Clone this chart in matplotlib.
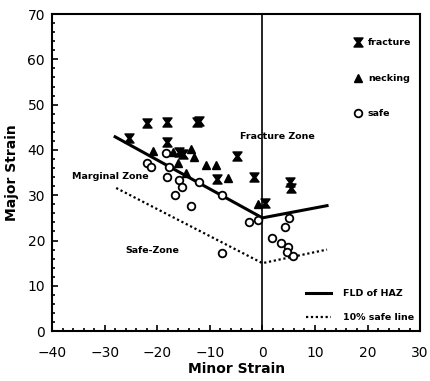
import matplotlib
matplotlib.use("Agg")
import matplotlib.pyplot as plt
from matplotlib.path import Path
from matplotlib.lines import Line2D
from matplotlib.ticker import MultipleLocator

# ---- data ----
fracture_x = [-25.3, -21.9, -18.1, -12.4, -12.0, -18.1, -15.8, -15.0, -4.8, -8.6, -1.5, 5.3, 5.5, 0.5]
fracture_y = [42.6, 45.9, 46.1, 46.1, 46.5, 41.8, 39.6, 39.2, 38.6, 33.5, 34.1, 32.9, 31.6, 28.3]

necking_x = [-20.8, -17.0, -13.5, -13.0, -16.0, -10.7, -8.8, -6.5, -14.5, -0.8]
necking_y = [39.8, 39.5, 40.2, 38.4, 37.2, 36.6, 36.6, 33.8, 35.0, 28.0]

safe_x = [-21.9, -21.1, -18.4, -18.1, -17.7, -15.8, -15.3, -16.6, -13.5, -12.0, -7.6, -7.6,
          -2.6, -0.9, 5.1, 4.4, 1.9, 3.6, 4.8, 4.6, 5.9]
safe_y = [37.2, 36.2, 39.4, 34.0, 36.2, 33.3, 31.8, 30.0, 27.6, 32.9, 30.0, 17.2,
          24.1, 24.5, 24.9, 22.9, 20.5, 19.4, 18.5, 17.4, 16.6]

fld_x = [-28.0, 0.0, 12.3]
fld_y = [42.9, 25.0, 27.7]

safe_line_x = [-27.8, 0.0, 12.3]
safe_line_y = [31.6, 15.0, 18.0]

# hourglass-like "X" marker
hg = Path([(-1, 1), (1, 1), (0.25, 0), (1, -1), (-1, -1), (-0.25, 0), (-1, 1)],
          [Path.MOVETO] + [Path.LINETO] * 5 + [Path.CLOSEPOLY])

fig = plt.figure(figsize=(4.30, 3.81), dpi=100)
ax = fig.add_axes([0.121, 0.131, 0.856, 0.832])

ax.axvline(0, color="black", lw=1.2, zorder=1)

ax.plot(fld_x, fld_y, color="black", lw=2.2, zorder=2)
ax.plot(safe_line_x, safe_line_y, color="black", lw=1.6, ls=(0, (1, 1.2)), zorder=2)

ax.plot(safe_x, safe_y, ls="none", marker="o", ms=5.5, mfc="white", mec="black", mew=1.3, zorder=3)
ax.plot(necking_x, necking_y, ls="none", marker="^", ms=6, color="black", zorder=4)
ax.plot(fracture_x, fracture_y, ls="none", marker=hg, ms=6.5, color="black", zorder=5)

ax.set_xlim(-40, 30)
ax.set_ylim(0, 70)
ax.xaxis.set_major_locator(MultipleLocator(10))
ax.xaxis.set_minor_locator(MultipleLocator(2))
ax.yaxis.set_major_locator(MultipleLocator(10))
ax.yaxis.set_minor_locator(MultipleLocator(2))
ax.tick_params(which="both", direction="in", top=False, right=False, width=1.2)
ax.tick_params(which="major", length=4, labelsize=10)
ax.tick_params(axis="x", which="major", pad=11)
ax.tick_params(axis="y", which="major", pad=5)
ax.tick_params(which="minor", length=2.5)
for s in ax.spines.values():
    s.set_linewidth(1.5)

ax.set_xlabel("Minor Strain", fontsize=10, fontweight="bold", labelpad=1)
ax.set_ylabel("Major Strain", fontsize=10, fontweight="bold", labelpad=6)

tfont = dict(fontsize=6.8, fontweight="bold")
ax.text(-4.2, 43.0, "Fracture Zone", ha="left", va="center", **tfont)
ax.text(-36.2, 34.2, "Marginal Zone", ha="left", va="center", **tfont)
ax.text(-21.0, 17.7, "Safe-Zone", ha="center", va="center", **tfont)

h1 = [Line2D([], [], ls="none", marker=hg, ms=6.5, color="black"),
      Line2D([], [], ls="none", marker="^", ms=6, color="black"),
      Line2D([], [], ls="none", marker="o", ms=5.5, mfc="white", mec="black", mew=1.3)]
leg1 = ax.legend(h1, ["fracture", "necking", "safe"], loc="upper left",
                 bbox_to_anchor=(0.812, 0.935), frameon=False, handlelength=0.6,
                 handletextpad=0.8, labelspacing=2.8, prop=dict(size=6.8, weight="bold"),
                 borderaxespad=0)
ax.add_artist(leg1)

h2 = [Line2D([], [], color="black", lw=2.2),
      Line2D([], [], color="black", lw=1.6, ls=(0, (1, 1.2)))]
ax.legend(h2, ["FLD of HAZ", "10% safe line"], loc="lower right",
          bbox_to_anchor=(1.0, 0.01), frameon=False, handlelength=2.6,
          handletextpad=1.3, labelspacing=1.6, prop=dict(size=6.8, weight="bold"),
          borderaxespad=0.2)

fig.savefig("out.png", dpi=100)
